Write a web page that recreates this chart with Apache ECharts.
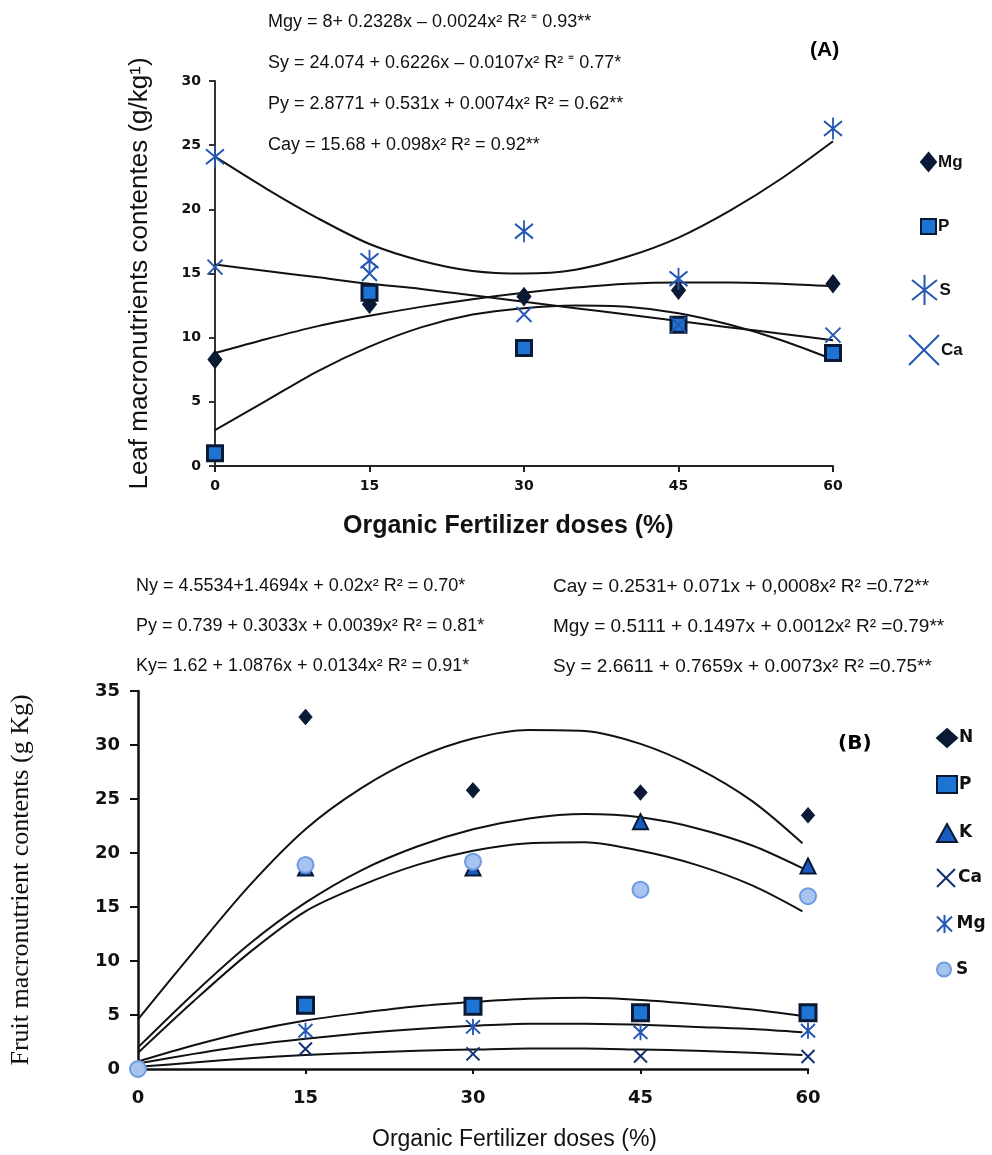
<!DOCTYPE html>
<html>
<head>
<meta charset="utf-8">
<script src="https://cdn.jsdelivr.net/npm/echarts@6/dist/echarts.min.js"></script>
<style>
  html, body { margin: 0; padding: 0; background: #fff; }
  #chart { width: 992px; height: 1155px; }
</style>
</head>
<body>
<div id="chart"></div>
<script>
// doses (%)
const doses = [0, 15, 30, 45, 60];

// panel A - leaf contents (g/kg)
const leafMg = [8.3, 12.6, 13.2, 13.7, 14.2];
const leafP = [1.0, 13.5, 9.2, 11.0, 8.8];
const leafS = [24.1, 16.0, 18.3, 14.6, 26.3];
const leafCa = [15.5, 15.0, 11.8, 11.0, 10.2];

// panel A - fitted curves
const fitXA = [0, 5, 10, 15, 20, 25, 30, 35, 40, 45, 50, 55, 60];
const fitLeafS = [24.1, 21.6, 19.3, 17.3, 16.0, 15.2, 15.0, 15.3, 16.3, 17.8, 19.9, 22.4, 25.3];
const fitLeafMg = [8.8, 9.9, 10.9, 11.7, 12.4, 13.0, 13.5, 13.9, 14.2, 14.3, 14.3, 14.2, 14.0];
const fitLeafCa = [15.7, 15.2, 14.7, 14.2, 13.8, 13.3, 12.8, 12.3, 11.8, 11.3, 10.8, 10.3, 9.8];
const fitLeafP = [2.8, 5.1, 7.4, 9.3, 10.8, 11.8, 12.3, 12.5, 12.4, 11.9, 11.0, 9.8, 8.3];

// panel B - fruit contents (g/kg)
const fruitN = [null, 32.6, 25.8, 25.6, 23.5];
const fruitP = [null, 5.9, 5.8, 5.2, 5.2];
const fruitK = [null, 18.6, 18.6, 22.9, 18.8];
const fruitCa = [null, 1.85, 1.4, 1.2, 1.15];
const fruitMg = [null, 3.55, 3.9, 3.4, 3.55];
const fruitS = [0, 18.9, 19.2, 16.6, 16.0];

// panel B - fitted curves
const fitXB = [0, 5, 10, 15, 20, 25, 30, 35, 40, 45, 50, 55, 59.5];
const fitFruitN = [4.6, 10.9, 17.0, 22.2, 26.0, 28.8, 30.6, 31.4, 31.3, 30.1, 27.9, 24.8, 20.9];
const fitFruitK = [2.0, 7.0, 11.6, 15.4, 18.4, 20.6, 22.2, 23.2, 23.6, 23.3, 22.3, 20.7, 18.6];
const fitFruitS = [1.5, 6.3, 10.8, 14.6, 17.0, 18.9, 20.2, 20.9, 21.0, 20.2, 18.9, 17.0, 14.6];
const fitFruitP = [0.7, 2.2, 3.5, 4.5, 5.2, 5.8, 6.2, 6.5, 6.6, 6.4, 6.0, 5.5, 4.9];
const fitFruitMg = [0.5, 1.4, 2.2, 2.8, 3.3, 3.7, 4.0, 4.2, 4.2, 4.1, 3.9, 3.7, 3.4];
const fitFruitCa = [0.2, 0.6, 1.0, 1.3, 1.5, 1.7, 1.8, 1.9, 1.9, 1.8, 1.7, 1.5, 1.3];

const eqA = [
  'Mgy = 8+ 0.2328x \u2013 0.0024x\u00b2 R\u00b2 \u207c 0.93**',
  'Sy = 24.074 + 0.6226x \u2013 0.0107x\u00b2 R\u00b2 \u207c 0.77*',
  'Py = 2.8771 + 0.531x + 0.0074x\u00b2 R\u00b2 = 0.62**',
  'Cay = 15.68 + 0.098x\u00b2 R\u00b2 = 0.92**'
];
const eqBLeft = [
  'Ny = 4.5534+1.4694x + 0.02x\u00b2 R\u00b2 = 0.70*',
  'Py = 0.739 + 0.3033x + 0.0039x\u00b2 R\u00b2 = 0.81*',
  'Ky= 1.62 + 1.0876x + 0.0134x\u00b2 R\u00b2 = 0.91*'
];
const eqBRight = [
  'Cay = 0.2531+ 0.071x + 0,0008x\u00b2 R\u00b2 =0.72**',
  'Mgy = 0.5111 + 0.1497x + 0.0012x\u00b2 R\u00b2 =0.79**',
  'Sy = 2.6611 + 0.7659x + 0.0073x\u00b2 R\u00b2 =0.75**'
];

const xMark = 'path://M0,0L10,10M10,0L0,10';
const starA = 'path://M0,2L10,10M10,2L0,10M5,0L5,12';
const starB = 'path://M0,0L10,10M10,0L0,10M5,-1L5,11';

const font = 'Liberation Sans';
const wide = 'DejaVu Sans';

function pts(xs, ys) {
  return xs.map((x, i) => [x, ys[i]]).filter(p => p[1] != null);
}

function fit(name, idx, xs, ys) {
  return {
    name: name, type: 'line', xAxisIndex: idx, yAxisIndex: idx,
    data: pts(xs, ys), smooth: 0.3, showSymbol: false, symbol: 'none',
    lineStyle: { color: '#111', width: 2 }, z: 1, silent: true
  };
}

function scat(name, idx, ys, symbol, size, style) {
  return {
    name: name, type: 'scatter', xAxisIndex: idx, yAxisIndex: idx,
    data: pts(doses, ys), symbol: symbol, symbolSize: size,
    itemStyle: Object.assign({ opacity: 1 }, style), z: 3, clip: false
  };
}

// one legend per entry so each icon gets its own size and place
function leg(name, left, top, w, h, textStyle) {
  return {
    left: left, top: top, itemWidth: w, itemHeight: h,
    data: [name], selectedMode: false, padding: 0, itemGap: 0,
    formatter: n => n.slice(2),
    textStyle: Object.assign({ color: '#111', fontWeight: 'bold', padding: [0, 0, 0, -3] }, textStyle)
  };
}

const darkFill = { color: '#0a1a35', borderColor: '#0a1a35', borderWidth: 1 };
const sqFill = { color: '#1d74d3', borderColor: '#0a1a35', borderWidth: 3 };
const lineBlue = { color: 'transparent', borderColor: '#2457b5', borderWidth: 2 };
const lineNavy = { color: 'transparent', borderColor: '#0f2f70', borderWidth: 2 };

const chart = echarts.init(document.getElementById('chart'));

const graphics = [];
eqA.forEach((t, i) => {
  graphics.push({ type: 'text', left: 268, top: 13 + i * 41,
    style: { text: t, font: '18px ' + font, fill: '#111' } });
});
eqBLeft.forEach((t, i) => {
  graphics.push({ type: 'text', left: 136, top: 577 + i * 40,
    style: { text: t, font: '18px ' + font, fill: '#111' } });
});
eqBRight.forEach((t, i) => {
  graphics.push({ type: 'text', left: 553, top: 577 + i * 40,
    style: { text: t, font: '19px ' + font, fill: '#111' } });
});
graphics.push(
  { type: 'text', left: 810, top: 40, style: { text: '(A)', font: 'bold 21px ' + font, fill: '#000' } },
  { type: 'text', left: 838, top: 734, style: { text: '(B)', font: 'bold 20px ' + wide, fill: '#000' } },
  { type: 'text', left: 343, top: 514, style: { text: 'Organic Fertilizer doses (%)', font: 'bold 25px ' + font, fill: '#111' } },
  { type: 'text', left: 372, top: 1128, style: { text: 'Organic Fertilizer doses (%)', font: '23px ' + font, fill: '#111' } }
);

const legA = { fontFamily: font, fontSize: 17 };
const legB = { fontFamily: wide, fontSize: 17 };

const option = {
  animation: false,
  backgroundColor: '#fff',
  graphic: graphics,
  legend: [
    leg('A-Mg', 920, 152, 15, 18, legA),
    leg('A-P', 920, 218, 15, 15, legA),
    leg('A-S', 911, 274, 26, 30, legA),
    leg('A-Ca', 908, 334, 30, 32, legA),
    leg('B-N', 936, 728, 20, 18, legB),
    leg('B-P', 936, 775, 20, 17, legB),
    leg('B-K', 936, 823, 20, 18, legB),
    leg('B-Ca', 936, 868, 20, 18, legB),
    leg('B-Mg', 936, 914, 20, 18, legB),
    leg('B-S', 936, 961, 20, 14, legB)
  ],
  grid: [
    { left: 215, top: 81, width: 618, height: 385 },
    { left: 137, top: 691, width: 671, height: 378 }
  ],
  xAxis: [
    {
      type: 'value', gridIndex: 0, min: 0, max: 60, interval: 15,
      axisLine: { lineStyle: { color: '#222', width: 2 } },
      axisTick: { show: true, length: 6, lineStyle: { color: '#222', width: 2 } },
      axisLabel: { margin: 13, fontFamily: wide, fontWeight: 'bold', fontSize: 14, color: '#111' },
      splitLine: { show: false }
    },
    {
      type: 'value', gridIndex: 1, min: 0, max: 60, interval: 15,
      axisLine: { lineStyle: { color: '#111', width: 2.5 } },
      axisTick: { show: true, length: 5, lineStyle: { color: '#111', width: 2 } },
      axisLabel: { margin: 20, fontFamily: wide, fontWeight: 'bold', fontSize: 18, color: '#111' },
      splitLine: { show: false }
    }
  ],
  yAxis: [
    {
      type: 'value', gridIndex: 0, min: 0, max: 30, interval: 5,
      name: 'Leaf macronutrients contentes (g/kg\u00b9)', nameLocation: 'middle', nameGap: 62,
      nameTextStyle: { fontFamily: font, fontSize: 26, color: '#111' },
      axisLine: { show: true, lineStyle: { color: '#333', width: 2 } },
      axisTick: { show: true, length: 6, lineStyle: { color: '#333', width: 2 } },
      axisLabel: { margin: 14, fontFamily: wide, fontWeight: 'bold', fontSize: 14, color: '#111' },
      splitLine: { show: false }
    },
    {
      type: 'value', gridIndex: 1, min: 0, max: 35, interval: 5,
      name: 'Fruit macronutrient contents (g Kg)', nameLocation: 'middle', nameGap: 104,
      nameTextStyle: { fontFamily: 'Liberation Serif', fontSize: 26, color: '#111' },
      axisLine: { show: true, lineStyle: { color: '#111', width: 2.5 } },
      axisTick: { show: true, length: 8, lineStyle: { color: '#111', width: 2 } },
      axisLabel: { margin: 18, fontFamily: wide, fontWeight: 'bold', fontSize: 18, color: '#111' },
      splitLine: { show: false }
    }
  ],
  series: [
    fit('fitA-S', 0, fitXA, fitLeafS),
    fit('fitA-Mg', 0, fitXA, fitLeafMg),
    fit('fitA-Ca', 0, fitXA, fitLeafCa),
    fit('fitA-P', 0, fitXA, fitLeafP),
    scat('A-Mg', 0, leafMg, 'diamond', [14, 18], darkFill),
    scat('A-P', 0, leafP, 'rect', 15, sqFill),
    scat('A-S', 0, leafS, starA, [18, 22], lineBlue),
    scat('A-Ca', 0, leafCa, xMark, 15, lineBlue),

    fit('fitB-N', 1, fitXB, fitFruitN),
    fit('fitB-K', 1, fitXB, fitFruitK),
    fit('fitB-S', 1, fitXB, fitFruitS),
    fit('fitB-P', 1, fitXB, fitFruitP),
    fit('fitB-Mg', 1, fitXB, fitFruitMg),
    fit('fitB-Ca', 1, fitXB, fitFruitCa),
    scat('B-N', 1, fruitN, 'diamond', [13, 15], darkFill),
    scat('B-P', 1, fruitP, 'rect', 16, sqFill),
    scat('B-K', 1, fruitK, 'triangle', 15, { color: '#1a5bbf', borderColor: '#0a1a35', borderWidth: 2 }),
    scat('B-Ca', 1, fruitCa, xMark, 13, lineNavy),
    scat('B-Mg', 1, fruitMg, starB, [14, 16], lineBlue),
    scat('B-S', 1, fruitS, 'circle', 16, { color: '#a7c3ef', borderColor: '#6f9be0', borderWidth: 2 })
  ]
};

chart.setOption(option);
</script>
</body>
</html>
